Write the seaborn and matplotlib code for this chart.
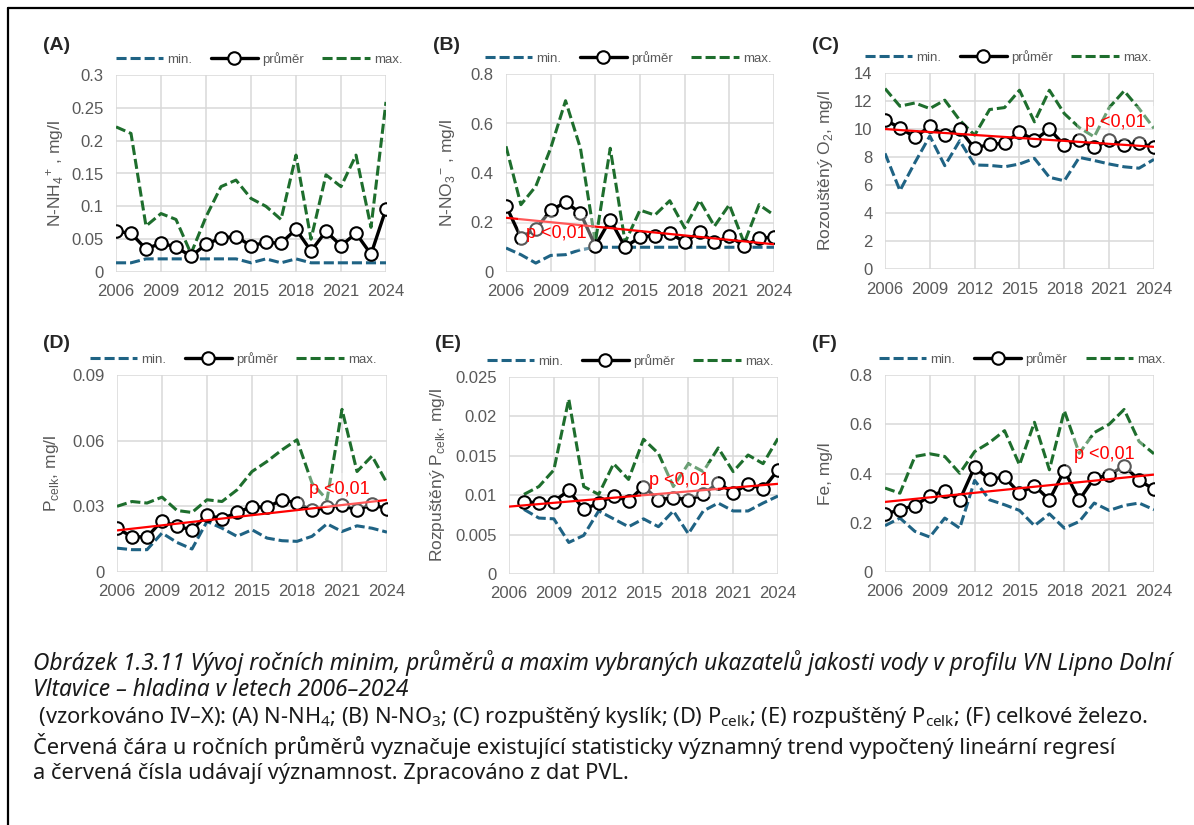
import numpy as np
import seaborn as sns
import matplotlib.pyplot as plt
from matplotlib.lines import Line2D
from matplotlib.ticker import MultipleLocator, FuncFormatter

import warnings

warnings.filterwarnings("ignore")

years = list(range(2006, 2025))
year_ticks = [2006, 2009, 2012, 2015, 2018, 2021, 2024]

# (A) N-NH4
nh4_min = [0.014, 0.014, 0.02, 0.02, 0.02, 0.02, 0.02, 0.02, 0.02, 0.014,
           0.02, 0.014, 0.02, 0.014, 0.014, 0.014, 0.014, 0.014, 0.014]
nh4_mean = [0.062, 0.059, 0.035, 0.044, 0.038, 0.024, 0.042, 0.052, 0.054, 0.040,
            0.045, 0.044, 0.065, 0.032, 0.062, 0.040, 0.059, 0.027, 0.096]
nh4_max = [0.221, 0.211, 0.070, 0.089, 0.080, 0.028, 0.084, 0.130, 0.140, 0.112,
           0.100, 0.080, 0.178, 0.050, 0.148, 0.130, 0.178, 0.068, 0.259]

# (B) N-NO3
no3_min = [0.097, 0.07, 0.036, 0.067, 0.07, 0.09, 0.1, 0.1, 0.1, 0.1,
           0.1, 0.1, 0.1, 0.1, 0.1, 0.1, 0.1, 0.1, 0.1]
no3_mean = [0.268, 0.139, 0.174, 0.249, 0.282, 0.238, 0.106, 0.211, 0.101, 0.141,
            0.147, 0.158, 0.12, 0.163, 0.12, 0.144, 0.106, 0.137, 0.141]
no3_max = [0.508, 0.272, 0.346, 0.50, 0.692, 0.50, 0.12, 0.50, 0.12, 0.25,
           0.23, 0.288, 0.178, 0.29, 0.185, 0.272, 0.117, 0.272, 0.23]

# (C) dissolved O2
o2_min = [8.26, 5.6, 7.6, 9.5, 7.38, 9.16, 7.43, 7.4, 7.3, 7.5,
          7.9, 6.55, 6.3, 7.97, 7.75, 7.5, 7.3, 7.2, 7.83]
o2_mean = [10.63, 10.1, 9.4, 10.2, 9.56, 9.97, 8.61, 8.92, 8.97, 9.8,
           9.2, 9.99, 8.85, 9.25, 8.68, 9.2, 8.85, 8.97, 8.73]
o2_max = [12.89, 11.63, 11.86, 11.46, 12.06, 10.63, 9.56, 11.39, 11.53, 12.77,
          10.51, 12.77, 11.1, 10.1, 9.44, 11.53, 12.72, 11.46, 10.04]

# (D) P celk
p_min = [0.0109, 0.0102, 0.0102, 0.0178, 0.0135, 0.0105, 0.0231, 0.020, 0.0163, 0.0193,
         0.0155, 0.0143, 0.014, 0.0163, 0.022, 0.0185, 0.0211, 0.020, 0.0182]
p_mean = [0.020, 0.0161, 0.016, 0.0234, 0.0208, 0.0193, 0.0261, 0.0243, 0.0272, 0.0299,
          0.0295, 0.033, 0.0315, 0.0281, 0.0295, 0.0307, 0.0281, 0.031, 0.0287]
p_max = [0.030, 0.0322, 0.0315, 0.0342, 0.0281, 0.0272, 0.033, 0.0322, 0.0375, 0.0459,
         0.0505, 0.0558, 0.0604, 0.0406, 0.033, 0.0743, 0.0459, 0.053, 0.0406]

# (E) dissolved P celk (no value for 2006)
dp_min = [np.nan, 0.0082, 0.0071, 0.007, 0.004, 0.0049, 0.008, 0.007, 0.006, 0.007,
          0.006, 0.008, 0.0051, 0.008, 0.009, 0.008, 0.008, 0.009, 0.0099]
dp_mean = [np.nan, 0.0092, 0.009, 0.0092, 0.0106, 0.0082, 0.009, 0.0099, 0.0093, 0.0111,
           0.0094, 0.0097, 0.0094, 0.0101, 0.0116, 0.0103, 0.0114, 0.0108, 0.0132]
dp_max = [np.nan, 0.0101, 0.0111, 0.0132, 0.0222, 0.0111, 0.0101, 0.014, 0.012, 0.0171,
          0.0153, 0.0111, 0.014, 0.013, 0.016, 0.013, 0.0151, 0.014, 0.0172]

# (F) Fe
fe_min = [0.188, 0.219, 0.165, 0.142, 0.219, 0.178, 0.372, 0.293, 0.273, 0.25,
          0.188, 0.236, 0.178, 0.205, 0.28, 0.25, 0.27, 0.28, 0.253]
fe_mean = [0.235, 0.253, 0.27, 0.309, 0.33, 0.292, 0.427, 0.377, 0.385, 0.32,
           0.351, 0.293, 0.412, 0.293, 0.381, 0.393, 0.432, 0.372, 0.336]
fe_max = [0.341, 0.32, 0.469, 0.48, 0.469, 0.401, 0.489, 0.526, 0.574, 0.435,
          0.608, 0.415, 0.655, 0.482, 0.566, 0.6, 0.66, 0.53, 0.48]

caption = [
    ("Obrázek 1.3.11 Vývoj ročních minim, průměrů a maxim vybraných ukazatelů jakosti vody v profilu VN Lipno Dolní", 'italic'),
    ("Vltavice – hladina v letech 2006–2024", 'italic'),
    (r" (vzorkováno IV–X): (A) N-NH$_\mathregular{4}$; (B) N-NO$_\mathregular{3}$; (C) rozpuštěný kyslík; "
     r"(D) P$_\mathregular{celk}$; (E) rozpuštěný P$_\mathregular{celk}$; (F) celkové železo.", 'normal'),
    ("Červená čára u ročních průměrů vyznačuje existující statisticky významný trend vypočtený lineární regresí", 'normal'),
    ("a červená čísla udávají významnost. Zpracováno z dat PVL.", 'normal'),
]

W, H = 1194, 825
sns.set_theme(style='white')
plt.rcParams['font.family'] = ['Liberation Sans Narrow', 'Liberation Sans', 'DejaVu Sans']

c_min = '#1f6384'
c_max = '#1e6e2d'
grey = '#595959'
narrow = ['Liberation Sans Narrow', 'Liberation Sans', 'DejaVu Sans']

panels = [
    dict(tag='(A)', mn=nh4_min, avg=nh4_mean, mx=nh4_max,
         ylabel=r'N-NH$_\mathregular{4}$$^\mathregular{+}$ , mg/l', ymax=0.3, step=0.05,
         p=None, rect=(116, 75, 386, 272), tag_xy=(43, 45), leg_x=0.53, ylab_x=-0.226),
    dict(tag='(B)', mn=no3_min, avg=no3_mean, mx=no3_max,
         ylabel=r'N-NO$_\mathregular{3}$$^\mathregular{-}$ , mg/l', ymax=0.8, step=0.2,
         p=(2009.4, 0.157), rect=(506, 74, 774, 272), tag_xy=(433, 45), leg_x=0.455, ylab_x=-0.22),
    dict(tag='(C)', mn=o2_min, avg=o2_mean, mx=o2_max,
         ylabel=r'Rozouštěný O$_\mathregular{2}$, mg/l', ymax=14, step=2,
         p=(2021.4, 10.44), rect=(885, 73, 1154, 269), tag_xy=(812, 45), leg_x=0.457, ylab_x=-0.223),
    dict(tag='(D)', mn=p_min, avg=p_mean, mx=p_max,
         ylabel=r'P$_\mathregular{celk}$, mg/l', ymax=0.09, step=0.03,
         p=(2020.8, 0.0375), rect=(117, 375, 387, 572), tag_xy=(43, 343), leg_x=0.43, ylab_x=-0.244),
    dict(tag='(E)', mn=dp_min, avg=dp_mean, mx=dp_max,
         ylabel=r'Rozpuštěný P$_\mathregular{celk}$, mg/l', ymax=0.025, step=0.005,
         p=(2017.4, 0.0119), rect=(509, 377, 778, 574), tag_xy=(435, 343), leg_x=0.45, ylab_x=-0.264),
    dict(tag='(F)', mn=fe_min, avg=fe_mean, mx=fe_max,
         ylabel='Fe, mg/l', ymax=0.8, step=0.2,
         p=(2020.7, 0.476), rect=(885, 375, 1154, 572), tag_xy=(812, 343), leg_x=0.51, ylab_x=-0.223),
]

fig = plt.figure(figsize=(W / 100, H / 100), dpi=100)
fig.patch.set_facecolor('white')

dash = (0, (3.3, 1.3))
for p in panels:
    l, t, r, b = p['rect']
    ax = fig.add_axes([l / W, 1 - b / H, (r - l) / W, (b - t) / H])
    ax.set_xlim(2006, 2024)
    ax.set_ylim(0, p['ymax'])

    sns.lineplot(x=years, y=p['mn'], ax=ax, color=c_min, lw=2.2, linestyle=dash, label='min.', zorder=3)
    sns.lineplot(x=years, y=p['avg'], ax=ax, color='black', lw=2.4, marker='o', markersize=9,
                 markerfacecolor='white', markeredgecolor='black', markeredgewidth=1.5,
                 label='průměr', zorder=5)
    sns.lineplot(x=years, y=p['mx'], ax=ax, color=c_max, lw=2.2, linestyle=dash, label='max.', zorder=4)

    if p['p'] is not None:
        sns.regplot(x=years, y=p['avg'], ax=ax, scatter=False, ci=None, truncate=False,
                    color='red', line_kws=dict(lw=1.6, zorder=6))
        ax.text(p['p'][0], p['p'][1], 'p <0,01', color='red', fontsize=13, ha='center', va='center',
                family=narrow, zorder=7,
                bbox=dict(facecolor='white', alpha=0.35, edgecolor='none', pad=6))

    ax.set_xlim(2006, 2024)
    ax.set_ylim(0, p['ymax'])
    ax.set_xticks(year_ticks)
    ax.yaxis.set_major_locator(MultipleLocator(p['step']))
    ax.yaxis.set_major_formatter(FuncFormatter(lambda v, pos: '{:g}'.format(round(v, 6))))
    ax.grid(True, color='#d9d9d9', lw=1.1)
    ax.set_axisbelow(True)
    for s in ax.spines.values():
        s.set_visible(False)
    ax.tick_params(length=0, labelsize=12, labelcolor=grey, pad=9)
    ax.set_xlabel('')
    ax.set_ylabel(p['ylabel'], fontsize=12.5, color=grey, va='center')
    ax.yaxis.set_label_coords(p['ylab_x'], 0.5)

    leg = ax.legend(loc='lower center', bbox_to_anchor=(p['leg_x'], 1.02), ncol=3, frameon=False,
                    fontsize=9.5, handlelength=3.6, handletextpad=0.3, columnspacing=1.4,
                    borderaxespad=0, labelcolor=grey)

    fig.text(p['tag_xy'][0] / W, 1 - p['tag_xy'][1] / H, p['tag'], fontsize=14, fontweight='bold',
             family=['Liberation Sans', 'DejaVu Sans'], ha='left', va='center')

# caption
cap_y = [663, 690, 718, 746, 774]
cap_size = [16.4, 16.4, 15.7, 15.7, 15.7]
for (txt, style), y, fs in zip(caption, cap_y, cap_size):
    fig.text(33 / W, 1 - y / H, txt, fontsize=fs, style=style, family=['Noto Sans', 'DejaVu Sans'],
             color='#1a1a1a', ha='left', va='center')

# frame (top and left edges)
fig.add_artist(Line2D([8 / W, 1], [1 - 8 / H, 1 - 8 / H], transform=fig.transFigure, color='black', lw=1.6))
fig.add_artist(Line2D([8 / W, 8 / W], [0, 1 - 8 / H], transform=fig.transFigure, color='black', lw=1.6))

plt.savefig('out.png', dpi=100)
